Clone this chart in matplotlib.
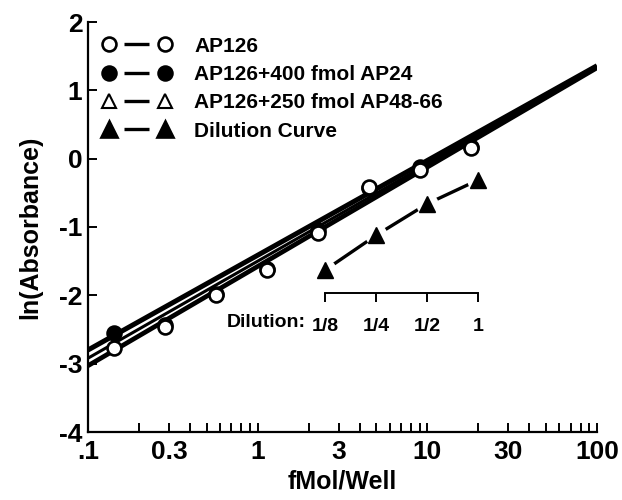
import matplotlib
matplotlib.use("Agg")
import matplotlib.pyplot as plt
import numpy as np
from matplotlib.lines import Line2D
from matplotlib.legend_handler import HandlerBase

plt.rcParams['font.family'] = ['Liberation Sans', 'DejaVu Sans']
plt.rcParams['font.weight'] = 'bold'
plt.rcParams['axes.unicode_minus'] = False

# ---------------- data ----------------
x_fmol = [0.142, 0.284, 0.568, 1.136, 2.27, 4.54, 9.09, 18.2]
y_ap126 = [-2.77, -2.46, -2.00, -1.63, -1.09, -0.41, -0.17, 0.16]
y_ap126_400 = [-2.55, -2.44, -1.98, -1.61, -1.04, -0.43, -0.12, 0.17]
y_ap126_250 = [-2.77, -2.46, -2.00, -1.63, -1.09, -0.42, -0.17, 0.15]

x_dilution = [2.5, 5.0, 10.0, 20.0]
y_dilution = [-1.63, -1.12, -0.66, -0.31]
dilution_labels = ['1/8', '1/4', '1/2', '1']

# fitted regression lines: value at x=0.1 and x=100
fit_x = [0.1, 100]
fit_ap126 = [-3.03, 1.33]
fit_ap126_400 = [-2.80, 1.36]
fit_ap126_250 = [-2.92, 1.34]

x_ticks = [0.1, 0.3, 1, 3, 10, 30, 100]
x_ticklabels = ['.1', '0.3', '1', '3', '10', '30', '100']
y_ticks = [-4, -3, -2, -1, 0, 1, 2]

labels = ['AP126', 'AP126+400 fmol AP24', 'AP126+250 fmol AP48-66', 'Dilution Curve']

# ---------------- figure ----------------
fig = plt.figure(figsize=(6.22, 5.0), dpi=100)
ax = fig.add_axes([88/622, 68/500, (597-88)/622, (432-22)/500])
ax.set_xscale('log')
ax.set_xlim(0.1, 100)
ax.set_ylim(-4, 2)

# regression lines
ax.plot(fit_x, fit_ap126_400, color='black', lw=3.6, solid_capstyle='butt', zorder=2)
ax.plot(fit_x, fit_ap126_250, color='black', lw=2.2, solid_capstyle='butt', zorder=2)
ax.plot(fit_x, fit_ap126, color='black', lw=3.4, solid_capstyle='butt', zorder=2)

ms_c = 10
mew = 1.9
ax.plot(x_fmol, y_ap126_400, ls='none', marker='o', ms=ms_c, mfc='black', mec='black', mew=mew, zorder=3)
ax.plot(x_fmol, y_ap126_250, ls='none', marker='^', ms=6.5, mfc='white', mec='black', mew=1.2, zorder=3)
ax.plot(x_fmol, y_ap126, ls='none', marker='o', ms=ms_c, mfc='white', mec='black', mew=mew, zorder=4)

# dilution curve: solid segments broken around each triangle
ax.plot(x_dilution, y_dilution, color='black', lw=2.4, solid_capstyle='butt', zorder=3)
ax.plot(x_dilution, y_dilution, ls='none', marker='o', ms=16, mfc='white', mec='none', zorder=3.1)
ax.plot(x_dilution, y_dilution, ls='none', marker='^', ms=11, mfc='black', mec='black', zorder=3.2)

# axes styling
for s in ['top', 'right']:
    ax.spines[s].set_visible(False)
for s in ['left', 'bottom']:
    ax.spines[s].set_linewidth(1.6)
ax.set_xticks(x_ticks)
ax.set_xticklabels(x_ticklabels)
ax.set_yticks(y_ticks)
ax.set_yticklabels([str(v) for v in y_ticks])
ax.tick_params(axis='both', which='major', direction='in', length=6.5, width=1.4, labelsize=19)
ax.tick_params(axis='x', which='major', pad=6)
ax.tick_params(axis='y', which='major', pad=4)
ax.tick_params(axis='x', which='minor', direction='in', length=6.5, width=1.4)
ax.xaxis.set_minor_formatter(matplotlib.ticker.NullFormatter())
ax.set_xlabel('fMol/Well', fontsize=18, fontweight='bold', labelpad=4)
ax.set_ylabel('ln(Absorbance)', fontsize=18, fontweight='bold', labelpad=12)

# dilution scale
bracket_y = -1.966
ax_d = ax.inset_axes([x_dilution[0], bracket_y - 0.3, x_dilution[-1] - x_dilution[0], 0.3],
                     transform=ax.transData)
ax_d.set_xscale('log')
ax_d.set_xlim(x_dilution[0], x_dilution[-1])
ax_d.patch.set_visible(False)
for s in ['left', 'right', 'bottom']:
    ax_d.spines[s].set_visible(False)
ax_d.spines['top'].set_linewidth(1.4)
ax_d.set_yticks([])
ax_d.set_xticks(x_dilution)
ax_d.set_xticklabels(dilution_labels)
ax_d.xaxis.set_minor_locator(matplotlib.ticker.NullLocator())
ax_d.tick_params(axis='x', which='both', bottom=False, top=False, labelbottom=True, labeltop=False,
                 labelsize=14, pad=0)
# tick marks hanging from the top spine
for xv in x_dilution:
    ax_d.plot([xv, xv], [1.0, 0.55], transform=ax_d.get_xaxis_transform(), color='black',
              lw=1.4, solid_capstyle='butt', clip_on=False)
ax_d.set_ylim(0, 1)
ax_d.annotate('Dilution:', xy=(x_dilution[0], 0), xycoords=('data', 'axes fraction'),
              xytext=(-14, 0), textcoords='offset points', ha='right', va='top',
              fontsize=14, fontweight='bold')


# legend with gap between line and markers
class GapHandler(HandlerBase):
    def create_artists(self, legend, orig_handle, xdescent, ydescent, width, height, fontsize, trans):
        y = height / 2.0 - ydescent
        x0 = -xdescent + 0.3 * fontsize
        x1 = width - xdescent - 0.3 * fontsize
        gap = 0.75 * fontsize
        line = Line2D([x0 + gap, x1 - gap], [y, y], color='black', lw=2.4, solid_capstyle='butt')
        mk = Line2D([x0, x1], [y, y], ls='none', marker=orig_handle.get_marker(),
                    ms=orig_handle.get_markersize(), mfc=orig_handle.get_markerfacecolor(),
                    mec='black', mew=orig_handle.get_markeredgewidth())
        line.set_transform(trans)
        mk.set_transform(trans)
        return [line, mk]


handles = [
    Line2D([], [], marker='o', ms=ms_c, mfc='white', mec='black', mew=mew),
    Line2D([], [], marker='o', ms=ms_c, mfc='black', mec='black', mew=mew),
    Line2D([], [], marker='^', ms=ms_c, mfc='white', mec='black', mew=mew - 0.4),
    Line2D([], [], marker='^', ms=ms_c + 1, mfc='black', mec='black', mew=mew),
]
leg = ax.legend(handles, labels, loc='upper left', bbox_to_anchor=(0.0, 1.0),
                frameon=False, handler_map={Line2D: GapHandler()},
                prop={'size': 15, 'weight': 'bold'}, handlelength=3.3,
                handletextpad=1.1, labelspacing=0.45, borderaxespad=0.3, borderpad=0.4)

fig.savefig('out.png', dpi=100)
